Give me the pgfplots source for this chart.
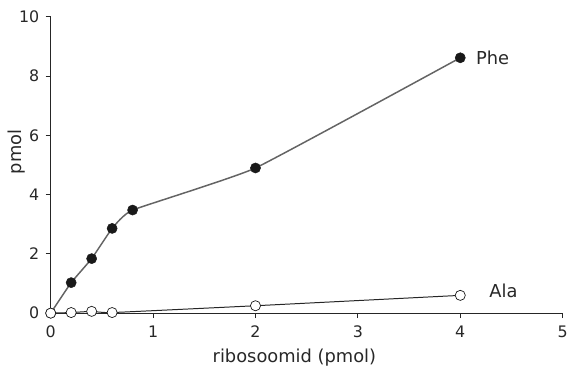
\documentclass[border=0pt]{standalone}
\usepackage{pgfplots}
\pgfplotsset{compat=1.18}
\usepackage{fontspec}
\setmainfont{DejaVu Sans}
\definecolor{linegray}{RGB}{100,100,100}
\definecolor{txt}{RGB}{40,40,40}
\begin{document}
\begin{tikzpicture}
\begin{axis}[
  scale only axis,
  width=515bp, height=298bp,
  xmin=0, xmax=5, ymin=0, ymax=10,
  axis lines*=left,
  axis line style={black!85, line width=0.8pt, -},
  xtick={0,1,2,3,4,5},
  ytick={0,2,4,6,8,10},
  tick align=outside,
  major tick length=5bp,
  tick style={black!85, line width=0.8pt},
  tick label style={font=\fontsize{16}{18}\selectfont, text=txt},
  xticklabel style={yshift=-4bp},
  yticklabel style={xshift=-3bp},
  /pgf/number format/assume math mode=true,
  xlabel={ribosoomid (pmol)},
  ylabel={pmol},
  label style={font=\fontsize{18}{20}\selectfont, text=txt},
  xlabel style={at={(axis description cs:0.476,0)}, anchor=base, yshift=-50bp},
  ylabel style={at={(axis description cs:0,0.544)}, anchor=center, yshift=34bp},
  clip=false,
]
% Phe
\addplot[linegray, line width=1.5pt, smooth, tension=0.22,
  mark=*, mark size=5.1bp, mark options={fill=black!90, draw=black!90, line width=0.5pt}]
  coordinates {(0,0) (0.2,1.03) (0.4,1.84) (0.6,2.86) (0.8,3.48) (2,4.9) (4,8.62)};
% Ala
\addplot[black!85, line width=1pt, smooth, tension=0.22,
  mark=*, mark size=5.1bp, mark options={fill=white, draw=black!90, line width=0.7pt}]
  coordinates {(0,0) (0.2,0.02) (0.4,0.06) (0.6,0.02) (2,0.25) (4,0.6)};
\node[anchor=base west, font=\fontsize{18}{20}\selectfont, text=txt] at (axis cs:4.12,8.38) {Phe};
\node[anchor=base west, font=\fontsize{18}{20}\selectfont, text=txt] at (axis cs:4.25,0.52) {Ala};
\end{axis}
\useasboundingbox (-51bp,-55bp) rectangle (520bp,315bp);
\end{tikzpicture}
\end{document}
